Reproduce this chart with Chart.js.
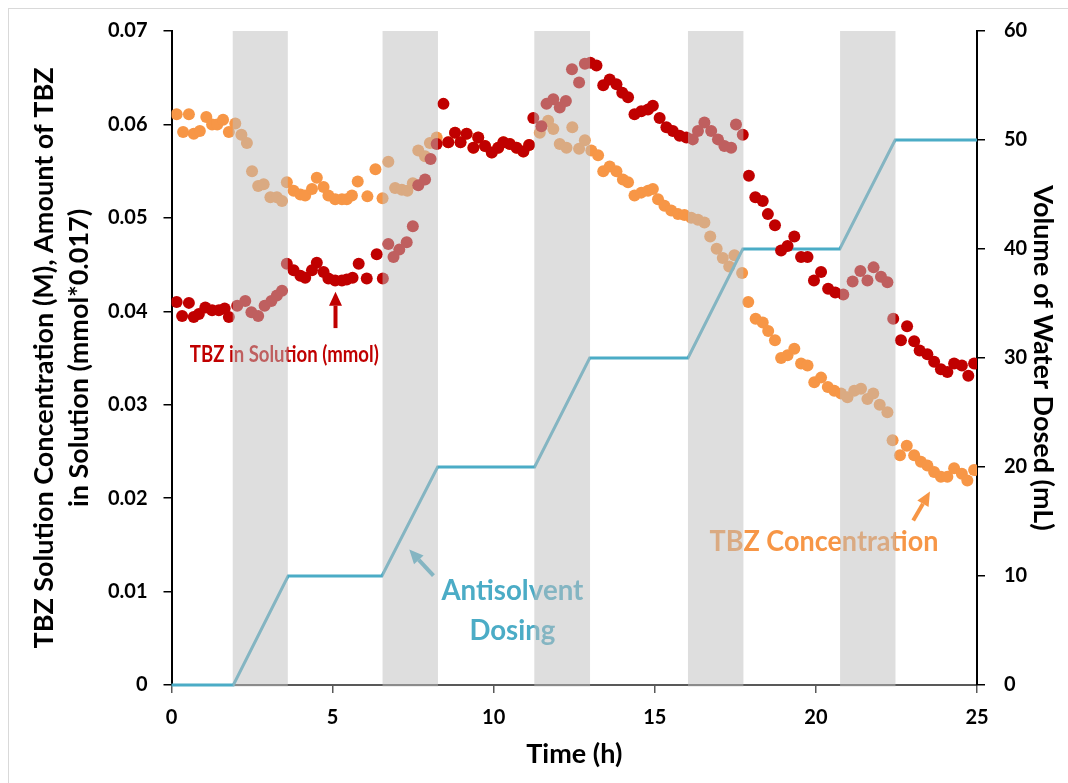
<!DOCTYPE html>
<html><head><meta charset="utf-8">
<script src="https://cdn.jsdelivr.net/npm/chart.js@4.4.1/dist/chart.umd.min.js"></script>
<style>
html,body{margin:0;padding:0;background:#fff;overflow:hidden;}
#wrap{position:relative;width:1068px;height:783px;}
#frame{position:absolute;left:8px;top:8px;width:1100px;height:800px;border:1px solid #d9d9d9;box-sizing:border-box;pointer-events:none;}
canvas{display:block;}
</style></head><body>
<div id="wrap"><canvas id="c" width="1068" height="783"></canvas><div id="frame"></div></div>
<script>
// ---- data ----
const amountTime = [0.16,0.33,0.54,0.69,0.85,1.05,1.26,1.47,1.65,1.78,2.04,2.29,2.48,2.69,2.89,3.10,3.27,3.43,3.58,3.79,4.00,4.15,4.36,4.51,4.72,4.87,5.08,5.29,5.44,5.62,5.81,6.06,6.37,6.56,6.73,6.89,7.07,7.30,7.49,7.66,7.87,8.04,8.23,8.44,8.59,8.80,8.97,9.16,9.37,9.52,9.73,9.94,10.14,10.30,10.50,10.71,10.92,11.10,11.23,11.48,11.64,11.85,12.05,12.24,12.43,12.65,12.83,13.00,13.19,13.40,13.60,13.81,13.99,14.17,14.37,14.58,14.79,14.94,15.15,15.36,15.56,15.77,15.98,16.18,16.34,16.54,16.75,16.96,17.16,17.37,17.52,17.73,17.92,18.12,18.35,18.51,18.73,18.92,19.12,19.33,19.54,19.74,19.94,20.16,20.38,20.60,20.85,21.14,21.38,21.60,21.79,22.02,22.22,22.40,22.64,22.83,23.05,23.22,23.46,23.67,23.88,24.08,24.29,24.53,24.73,24.91];
const amountValue = [0.0410,0.0395,0.0409,0.0394,0.0397,0.0404,0.0401,0.0401,0.0403,0.0394,0.0406,0.0411,0.0399,0.0395,0.0406,0.0411,0.0417,0.0422,0.0451,0.0444,0.0438,0.0436,0.0444,0.0452,0.0442,0.0435,0.0433,0.0433,0.0434,0.0436,0.0451,0.0435,0.0461,0.0435,0.0472,0.0458,0.0466,0.0474,0.0491,0.0535,0.0541,0.0563,0.0579,0.0622,0.0581,0.0591,0.0581,0.0590,0.0575,0.0586,0.0577,0.0570,0.0575,0.0581,0.0579,0.0575,0.0571,0.0578,0.0607,0.0598,0.0622,0.0627,0.0618,0.0625,0.0659,0.0645,0.0665,0.0666,0.0663,0.0642,0.0648,0.0643,0.0634,0.0629,0.0611,0.0614,0.0616,0.0620,0.0607,0.0597,0.0593,0.0588,0.0586,0.0584,0.0593,0.0602,0.0593,0.0584,0.0577,0.0575,0.0600,0.0589,0.0545,0.0522,0.0518,0.0504,0.0492,0.0465,0.0470,0.0480,0.0458,0.0458,0.0433,0.0442,0.0424,0.0420,0.0418,0.0432,0.0443,0.0433,0.0447,0.0437,0.0431,0.0392,0.0369,0.0384,0.0368,0.0358,0.0354,0.0346,0.0338,0.0335,0.0344,0.0342,0.0331,0.0344];

const concTime = [0.16,0.36,0.54,0.69,0.88,1.08,1.26,1.42,1.60,1.78,1.98,2.17,2.34,2.50,2.69,2.86,3.07,3.27,3.43,3.58,3.79,4.00,4.15,4.36,4.51,4.72,4.87,5.08,5.29,5.44,5.60,5.78,6.08,6.33,6.55,6.73,6.94,7.15,7.32,7.49,7.66,7.87,8.02,8.23,8.59,8.80,8.97,9.16,9.37,9.52,9.73,9.94,10.14,10.30,10.50,10.71,10.92,11.10,11.43,11.69,11.85,12.05,12.26,12.44,12.65,12.83,13.03,13.24,13.40,13.60,13.81,14.01,14.17,14.37,14.58,14.79,14.94,15.10,15.30,15.51,15.72,15.92,16.13,16.34,16.54,16.72,16.92,17.11,17.31,17.47,17.71,17.90,18.13,18.35,18.52,18.73,18.92,19.12,19.33,19.54,19.74,19.95,20.16,20.37,20.57,20.78,20.98,21.19,21.40,21.60,21.78,21.98,22.22,22.38,22.61,22.82,23.05,23.26,23.46,23.67,23.88,24.08,24.29,24.53,24.70,24.91];
const concValue = [0.0611,0.0592,0.0611,0.0590,0.0593,0.0608,0.0600,0.0600,0.0605,0.0592,0.0601,0.0589,0.0580,0.0550,0.0534,0.0536,0.0522,0.0522,0.0518,0.0538,0.0529,0.0525,0.0524,0.0531,0.0543,0.0533,0.0524,0.0520,0.0520,0.0520,0.0524,0.0539,0.0523,0.0552,0.0521,0.0560,0.0532,0.0530,0.0529,0.0537,0.0572,0.0566,0.0580,0.0586,0.0581,0.0591,0.0581,0.0590,0.0575,0.0586,0.0577,0.0570,0.0575,0.0581,0.0579,0.0575,0.0571,0.0578,0.0591,0.0604,0.0595,0.0579,0.0575,0.0597,0.0574,0.0583,0.0572,0.0567,0.0550,0.0555,0.0550,0.0541,0.0538,0.0524,0.0527,0.0529,0.0531,0.0520,0.0513,0.0508,0.0504,0.0503,0.0500,0.0498,0.0495,0.0480,0.0467,0.0457,0.0448,0.0460,0.0441,0.0410,0.0392,0.0388,0.0379,0.0369,0.0350,0.0353,0.0360,0.0344,0.0342,0.0324,0.0329,0.0319,0.0315,0.0312,0.0308,0.0315,0.0317,0.0306,0.0312,0.0300,0.0292,0.0262,0.0246,0.0256,0.0246,0.0239,0.0235,0.0228,0.0223,0.0223,0.0232,0.0226,0.0219,0.0230];

const doseTime   = [0, 1.92, 3.62, 6.53, 8.26, 11.27, 12.98, 16.03, 17.73, 20.74, 22.46, 25];
const doseVolume = [0, 0, 10, 10, 20, 20, 30, 30, 40, 40, 50, 50];

const bandStart = [1.90, 6.55, 11.26, 16.03, 20.75];
const bandEnd   = [3.61, 8.27, 12.99, 17.75, 22.47];

const xTickLabels = ['0','5','10','15','20','25'];
const leftTickLabels = ['0','0.01','0.02','0.03','0.04','0.05','0.06','0.07'];
const rightTickLabels = ['0','10','20','30','40','50','60'];

// annotations (text, anchor in data units: hours, left-axis value)
const annotations = [
  {text:'TBZ in Solution (mmol)', x:3.50, y:0.0346, color:'#c00000', size:23, width:189},
  {text:'Antisolvent', x:10.58, y:0.0091, color:'#4bacc6', size:28, width:142},
  {text:'Dosing', x:10.58, y:0.0048, color:'#4bacc6', size:28, width:86},
  {text:'TBZ Concentration', x:20.25, y:0.0143, color:'#f79646', size:28, width:229}
];
const arrows = [
  {from:[5.09,0.0382], to:[5.09,0.0421], color:'#c00000'},
  {from:[8.13,0.0117], to:[7.38,0.0145], color:'#4bacc6'},
  {from:[23.02,0.0176], to:[23.54,0.0207], color:'#f79646'}
];

const FONT = 'Lato, "Open Sans", sans-serif';

const annotationPlugin = {
  id:'annot',
  afterDatasetsDraw(chart){
    const {ctx, scales:{x, y}} = chart;
    ctx.save();
    ctx.textAlign = 'center';
    ctx.textBaseline = 'alphabetic';
    annotations.forEach(a => {
      ctx.font = 'bold ' + a.size + 'px ' + FONT;
      const m = ctx.measureText(a.text).width;
      const sx = a.width / m;
      ctx.save();
      ctx.translate(x.getPixelForValue(a.x), y.getPixelForValue(a.y));
      ctx.scale(sx, 1);
      ctx.fillStyle = a.color;
      ctx.fillText(a.text, 0, 0);
      ctx.restore();
    });
    arrows.forEach(a => {
      const x0 = x.getPixelForValue(a.from[0]), y0 = y.getPixelForValue(a.from[1]);
      const x1 = x.getPixelForValue(a.to[0]), y1 = y.getPixelForValue(a.to[1]);
      const ang = Math.atan2(y1 - y0, x1 - x0);
      const hl = 14, hw = 6.5;
      const bx = x1 - hl * Math.cos(ang), by = y1 - hl * Math.sin(ang);
      ctx.strokeStyle = a.color; ctx.fillStyle = a.color;
      ctx.lineWidth = 4; ctx.lineCap = 'butt';
      ctx.beginPath(); ctx.moveTo(x0, y0); ctx.lineTo(bx, by); ctx.stroke();
      ctx.beginPath();
      ctx.moveTo(x1, y1);
      ctx.lineTo(bx + hw * Math.sin(ang), by - hw * Math.cos(ang));
      ctx.lineTo(bx - hw * Math.sin(ang), by + hw * Math.cos(ang));
      ctx.closePath(); ctx.fill();
    });
    ctx.restore();
  }
};

const bandPlugin = {
  id:'bands',
  afterDraw(chart){
    const {ctx, chartArea, scales:{x}} = chart;
    ctx.save();
    ctx.fillStyle = 'rgba(190,190,190,0.5)';
    for (let i = 0; i < bandStart.length; i++) {
      const x0 = x.getPixelForValue(bandStart[i]), x1 = x.getPixelForValue(bandEnd[i]);
      ctx.fillRect(x0, chartArea.top, x1 - x0, chartArea.bottom - chartArea.top + 1.5);
    }
    ctx.restore();
  }
};

const tickFont = {family: FONT, weight:'bold', size:20};
const titleFont = {family: FONT, weight:'bold', size:27, lineHeight:1.3};

new Chart(document.getElementById('c'), {
  data: {
    datasets: [
      {type:'scatter', label:'TBZ in Solution', data: amountTime.map((t,i)=>({x:t, y:amountValue[i]})),
       backgroundColor:'#c00000', borderWidth:0, pointRadius:6, pointHoverRadius:6, yAxisID:'y'},
      {type:'line', label:'Antisolvent Dosing', data: doseTime.map((t,i)=>({x:t, y:doseVolume[i]})),
       borderColor:'#4bacc6', borderWidth:3, pointRadius:0, tension:0, fill:false, clip:false, yAxisID:'y2'},
      {type:'scatter', label:'TBZ Concentration', data: concTime.map((t,i)=>({x:t, y:concValue[i]})),
       backgroundColor:'#f79646', borderWidth:0, pointRadius:6, pointHoverRadius:6, yAxisID:'y'}
    ]
  },
  options: {
    responsive:false, animation:false, devicePixelRatio:1,
    layout:{padding:{top:30, left:0, right:0, bottom:0}},
    plugins:{legend:{display:false}, tooltip:{enabled:false}},
    scales:{
      x:{type:'linear', position:'bottom', min:0, max:25,
        ticks:{stepSize:5, font:tickFont, color:'#000', padding:13, maxRotation:0,
               callback:(v,i)=>xTickLabels[i]},
        grid:{drawOnChartArea:false, tickLength:8, color:'#595959', lineWidth:1.5},
        border:{color:'#595959', width:2},
        title:{display:true, text:'Time (h)', font:titleFont, color:'#000', padding:{top:0, bottom:11}},
        afterFit:(s)=>{ s.height = 98; }
      },
      y:{type:'linear', position:'left', min:0, max:0.07,
        ticks:{stepSize:0.01, font:tickFont, color:'#000', padding:16,
               callback:(v,i)=>leftTickLabels[i]},
        grid:{drawOnChartArea:false, tickLength:8, color:'#000', lineWidth:1.5},
        border:{color:'#000', width:2},
        title:{display:true, text:['TBZ Solution Concentration (M), Amount of TBZ','in Solution (mmol*0.017)'],
               font:titleFont, color:'#000', padding:{top:27, bottom:0}},
        afterFit:(s)=>{ s.width = 171.5; }
      },
      y2:{type:'linear', position:'right', min:0, max:60,
        ticks:{stepSize:10, font:tickFont, color:'#000', padding:19,
               callback:(v,i)=>rightTickLabels[i]},
        grid:{drawOnChartArea:false, tickLength:8, color:'#000', lineWidth:1.5},
        border:{color:'#000', width:2},
        title:{display:true, text:'Volume of Water Dosed (mL)', font:titleFont, color:'#000', padding:{top:8, bottom:0}},
        afterFit:(s)=>{ s.width = 91; }
      }
    }
  },
  plugins:[annotationPlugin, bandPlugin]
});
</script>
</body></html>
